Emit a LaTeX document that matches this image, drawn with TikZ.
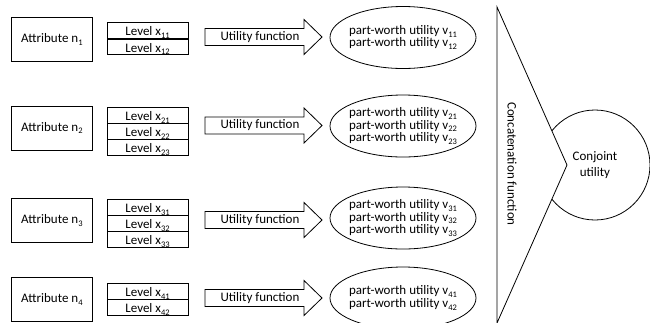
\documentclass[tikz,border=0pt]{standalone}
\usepackage{fontspec}
\setmainfont{Carlito}
\usetikzlibrary{shapes.geometric}
% small, lowered index digits
\newcommand\idx[1]{\raisebox{-2.6pt}{\fontsize{8.5}{8.5}\selectfont #1}}
\tikzset{
  x=1pt, y=-1pt,
  line/.style={draw=black, line width=0.8pt},
  txt/.style={font=\fontsize{13}{12.5}\selectfont, inner sep=0pt, align=center},
  attrbox/.style={line, fill=white, minimum width=81pt, minimum height=44pt, anchor=north west, inner sep=0pt},
  lvlbox/.style={line, fill=white, minimum width=81pt, minimum height=15.5pt, anchor=north west, inner sep=0pt},
  pwell/.style={line, ellipse, minimum width=146pt, minimum height=62pt, inner sep=0pt},
}
% one level box; its label is clipped to the box like a text frame
\newcommand\levelbox[3]{% name, top y, index
  \node[lvlbox] (#1) at (107,#2) {};
  \begin{scope}
    \clip (#1.south west) rectangle (#1.north east);
    \node[txt, anchor=base] at (147.5,#2+13.6) {Level x\idx{#3}};
  \end{scope}}
% block arrow carrying the utility function label
\newcommand\utilarrow[2]{% name, centre y
  \draw[line, fill=white] (205,#2-8.5) -- (304,#2-8.5) -- (304,#2-17.5) -- (322,#2)
    -- (304,#2+17.5) -- (304,#2+8.5) -- (205,#2+8.5) -- cycle;
  \node[txt] (#1) at (260,#2) {Utility function};}
\begin{document}
\begin{tikzpicture}
\useasboundingbox (0,0) rectangle (650,322);
\clip (0,0) rectangle (650,322);

% attributes
\node[attrbox] (a1) at (11,17) {};
\node[txt] at (a1) {Attribute n\idx{1}};
\node[attrbox] (a2) at (11,105.5) {};
\node[txt] at (a2) {Attribute n\idx{2}};
\node[attrbox] (a3) at (11,198) {};
\node[txt] at (a3) {Attribute n\idx{3}};
\node[attrbox] (a4) at (11,277) {};
\node[txt] at (a4) {Attribute n\idx{4}};

% levels
\levelbox{l11}{22}{11}
\levelbox{l12}{38.5}{12}
\levelbox{l21}{107}{21}
\levelbox{l22}{123}{22}
\levelbox{l23}{139}{23}
\levelbox{l31}{199}{31}
\levelbox{l32}{215}{32}
\levelbox{l33}{231}{33}
\levelbox{l41}{283}{41}
\levelbox{l42}{299}{42}

% utility functions
\utilarrow{u1}{37}
\utilarrow{u2}{125.5}
\utilarrow{u3}{220}
\utilarrow{u4}{298}

% part-worth utilities
\node[pwell] (p1) at (403,37.5) {};
\node[txt] at (p1) {part-worth utility v\idx{11}\\part-worth utility v\idx{12}};
\node[pwell] (p2) at (403,126) {};
\node[txt] at (p2) {part-worth utility v\idx{21}\\part-worth utility v\idx{22}\\part-worth utility v\idx{23}};
\node[pwell] (p3) at (403,218) {};
\node[txt] at (p3) {part-worth utility v\idx{31}\\part-worth utility v\idx{32}\\part-worth utility v\idx{33}};
\node[pwell] (p4) at (403,298) {};
\node[txt] at (p4) {part-worth utility v\idx{41}\\part-worth utility v\idx{42}};

% conjoint utility, partly covered by the concatenation wedge
\node[line, circle, minimum size=110pt, inner sep=0pt] (cu) at (595,165) {};
\node[txt, align=center, font=\fontsize{13}{15.5}\selectfont] at (cu) {Conjoint\\utility};

% concatenation wedge
\coordinate (t1) at (497,7);
\coordinate (t2) at (567,165);
\coordinate (t3) at (497,323);
\draw[line, fill=white, line join=miter] (t1) -- (t2) -- (t3) -- cycle;
\node[txt, rotate=-90] (cf) at (512,164) {Concatenation function};
\end{tikzpicture}
\end{document}
